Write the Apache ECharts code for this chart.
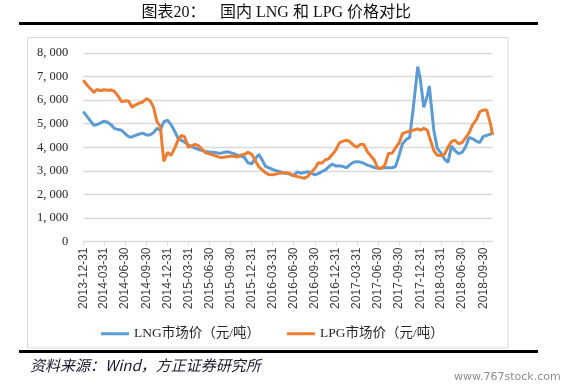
<!DOCTYPE html>
<html><head><meta charset="utf-8">
<script src="https://cdn.jsdelivr.net/npm/echarts@6/dist/echarts.min.js"></script>
<style>html,body{margin:0;padding:0;background:#fff}#c{width:574px;height:390px}</style>
</head><body><div id="c"></div>
<script>
const dates = [
'2013-12-31','2014-01-15','2014-01-31','2014-02-15','2014-02-28','2014-03-15','2014-03-31','2014-04-15','2014-04-30','2014-05-15','2014-05-31','2014-06-15','2014-06-30','2014-07-15','2014-07-31','2014-08-15','2014-08-31','2014-09-15','2014-09-30','2014-10-15','2014-10-31','2014-11-15','2014-11-30','2014-12-15','2014-12-31',
'2015-01-15','2015-01-31','2015-02-15','2015-02-28','2015-03-15','2015-03-31','2015-04-15','2015-04-30','2015-05-15','2015-05-31','2015-06-15','2015-06-30','2015-07-15','2015-07-31','2015-08-15','2015-08-31','2015-09-15','2015-09-30','2015-10-15','2015-10-31','2015-11-15','2015-11-30','2015-12-15','2015-12-31',
'2016-01-15','2016-01-31','2016-02-15','2016-02-29','2016-03-15','2016-03-31','2016-04-15','2016-04-30','2016-05-15','2016-05-31','2016-06-15','2016-06-30','2016-07-15','2016-07-31','2016-08-15','2016-08-31','2016-09-15','2016-09-30','2016-10-15','2016-10-31','2016-11-15','2016-11-30','2016-12-15','2016-12-31',
'2017-01-15','2017-01-31','2017-02-15','2017-02-28','2017-03-15','2017-03-31','2017-04-15','2017-04-30','2017-05-15','2017-05-31','2017-06-15','2017-06-30','2017-07-15','2017-07-31','2017-08-15','2017-08-31','2017-09-15','2017-09-30','2017-10-15','2017-10-31','2017-11-15','2017-11-30','2017-12-20','2017-12-31',
'2018-01-15','2018-01-31','2018-02-08','2018-02-28','2018-03-15','2018-03-31','2018-04-15','2018-04-30','2018-05-15','2018-05-31','2018-06-15','2018-06-30','2018-07-15','2018-07-31','2018-08-15','2018-08-31','2018-09-15','2018-09-30','2018-10-15','2018-10-31','2018-11-10'
];
const lng = [
5510,5320,5120,4930,4960,5030,5110,5060,4960,4800,4750,4720,4580,4450,4440,4510,4560,4600,4520,4520,4620,4800,4720,5080,5150,
4970,4680,4380,4300,4220,4100,4030,3960,3900,3860,3820,3800,3790,3770,3740,3780,3810,3770,3730,3660,3620,3560,3340,3300,
3500,3700,3450,3190,3130,3060,3000,2960,2920,2890,2850,2790,2950,2900,2930,2960,2900,2830,2880,2970,3040,3180,3290,3200,
3210,3180,3130,3250,3360,3390,3370,3320,3240,3200,3140,3110,3120,3130,3130,3130,3190,3650,4150,4330,4420,5600,7420,6900,
5700,6200,6600,4700,3950,3750,3500,3350,4050,3850,3730,3780,4000,4420,4360,4260,4200,4460,4500,4560,4590
];
const lpg = [
6850,6650,6480,6330,6450,6400,6440,6420,6430,6370,6170,5930,5970,5960,5700,5800,5870,5920,6060,5990,5720,5100,4880,3400,3780,
3650,3950,4300,4500,4450,4000,4060,4120,4060,3900,3760,3720,3680,3620,3570,3580,3600,3620,3620,3590,3670,3700,3780,3700,
3450,3170,3040,2920,2840,2830,2860,2900,2920,2920,2870,2800,2760,2720,2680,2770,2950,3100,3340,3330,3470,3520,3700,3900,
4200,4260,4300,4240,4100,4000,4120,4120,3820,3630,3450,3110,3100,3250,3740,3750,3980,4180,4580,4640,4680,4720,4780,4720,
4800,4720,4450,3850,3660,3650,3700,4000,4240,4300,4150,4200,4400,4620,4960,5160,5500,5580,5580,5000,4520
];
const tickLabels = ['2013-12-31','2014-03-31','2014-06-30','2014-09-30','2014-12-31','2015-03-31','2015-06-30','2015-09-30','2015-12-31','2016-03-31','2016-06-30','2016-09-30','2016-12-31','2017-03-31','2017-06-30','2017-09-30','2017-12-31','2018-03-31','2018-06-30','2018-09-30'];
const yTicks = [0,1000,2000,3000,4000,5000,6000,7000,8000];
const seriesNames = ['LNG市场价（元/吨）','LPG市场价（元/吨）'];

const DAY = 86400000;
const t0 = Date.parse(tickLabels[0]);
const dayOf = s => Math.round((Date.parse(s) - t0) / DAY);
const xMax = dayOf(dates[dates.length - 1]);
const tickDays = tickLabels.map(dayOf);
const labelMap = {};
tickDays.forEach((d, i) => { labelMap[d] = tickLabels[i]; });
const pairs = arr => dates.map((d, i) => [dayOf(d), arr[i]]);

const chart = echarts.init(document.getElementById('c'), null, {renderer: 'canvas'});
const serif = "'Liberation Serif','Noto Sans CJK SC',serif";
chart.setOption({
  animation: false,
  backgroundColor: '#fff',
  grid: {left: 83.3, right: 81.3, top: 53, bottom: 148.5, containLabel: false},
  xAxis: {
    type: 'value', min: 0, max: xMax,
    splitLine: {show: false},
    axisLine: {show: true, lineStyle: {color: '#d9d9d9', width: 1}},
    axisTick: {show: true, customValues: tickDays, length: 4, lineStyle: {color: '#d9d9d9'}},
    axisLabel: {
      customValues: tickDays, rotate: 90, margin: 6,
      fontFamily: "'Liberation Sans',Arial,sans-serif", fontSize: 12, color: '#404040',
      formatter: v => labelMap[Math.round(v)] || ''
    }
  },
  yAxis: {
    type: 'value', min: yTicks[0], max: yTicks[yTicks.length - 1], interval: yTicks[1] - yTicks[0],
    axisLine: {show: false}, axisTick: {show: false},
    splitLine: {lineStyle: {color: '#d9d9d9', width: 1.3}},
    axisLabel: {
      margin: 15, fontFamily: serif, fontSize: 12.5, color: '#262626',
      formatter: v => v === 0 ? '0' : v.toLocaleString('en-US').replace(',', ', ')
    }
  },
  legend: {
    data: seriesNames, left: 96, top: 322, icon: 'rect', itemWidth: 28, itemHeight: 3, itemGap: 27,
    textStyle: {fontFamily: serif, fontSize: 13.5, color: '#262626'}
  },
  series: [
    {name: seriesNames[0], type: 'line', data: pairs(lng), symbol: 'none', lineStyle: {width: 3, color: '#5B9BD5'}, itemStyle: {color: '#5B9BD5'}},
    {name: seriesNames[1], type: 'line', data: pairs(lpg), symbol: 'none', lineStyle: {width: 3, color: '#ED7D31'}, itemStyle: {color: '#ED7D31'}}
  ],
  graphic: [
    {type: 'text', left: 141.5, top: 5, style: {text: '图表20：', font: "16px 'Liberation Serif','Noto Sans CJK SC',serif", fill: '#111'}},
    {type: 'text', left: 220, top: 5, style: {text: '国内 LNG 和 LPG 价格对比', font: "16px 'Liberation Serif','Noto Sans CJK SC',serif", fill: '#111'}},
    {type: 'rect', shape: {x: 19, y: 22, width: 519, height: 3}, style: {fill: '#000'}},
    {type: 'rect', shape: {x: 27.5, y: 37.5, width: 480.5, height: 310.5}, style: {fill: 'none', stroke: '#d9d9d9', lineWidth: 1}, z: -1},
    {type: 'rect', shape: {x: 19, y: 350, width: 519, height: 3}, style: {fill: '#000'}},
    {type: 'text', left: 30, top: 358, style: {text: '资料来源：Wind，方正证券研究所', font: "italic 15px 'Noto Sans CJK SC',sans-serif", fill: '#1a1a2e', letterSpacing: 1.2}},
    {type: 'text', left: 454, top: 372, style: {text: 'www.767stock.com', font: "11px 'DejaVu Sans',sans-serif", fill: '#8c8c8c'}}
  ]
});
</script>
</body></html>
